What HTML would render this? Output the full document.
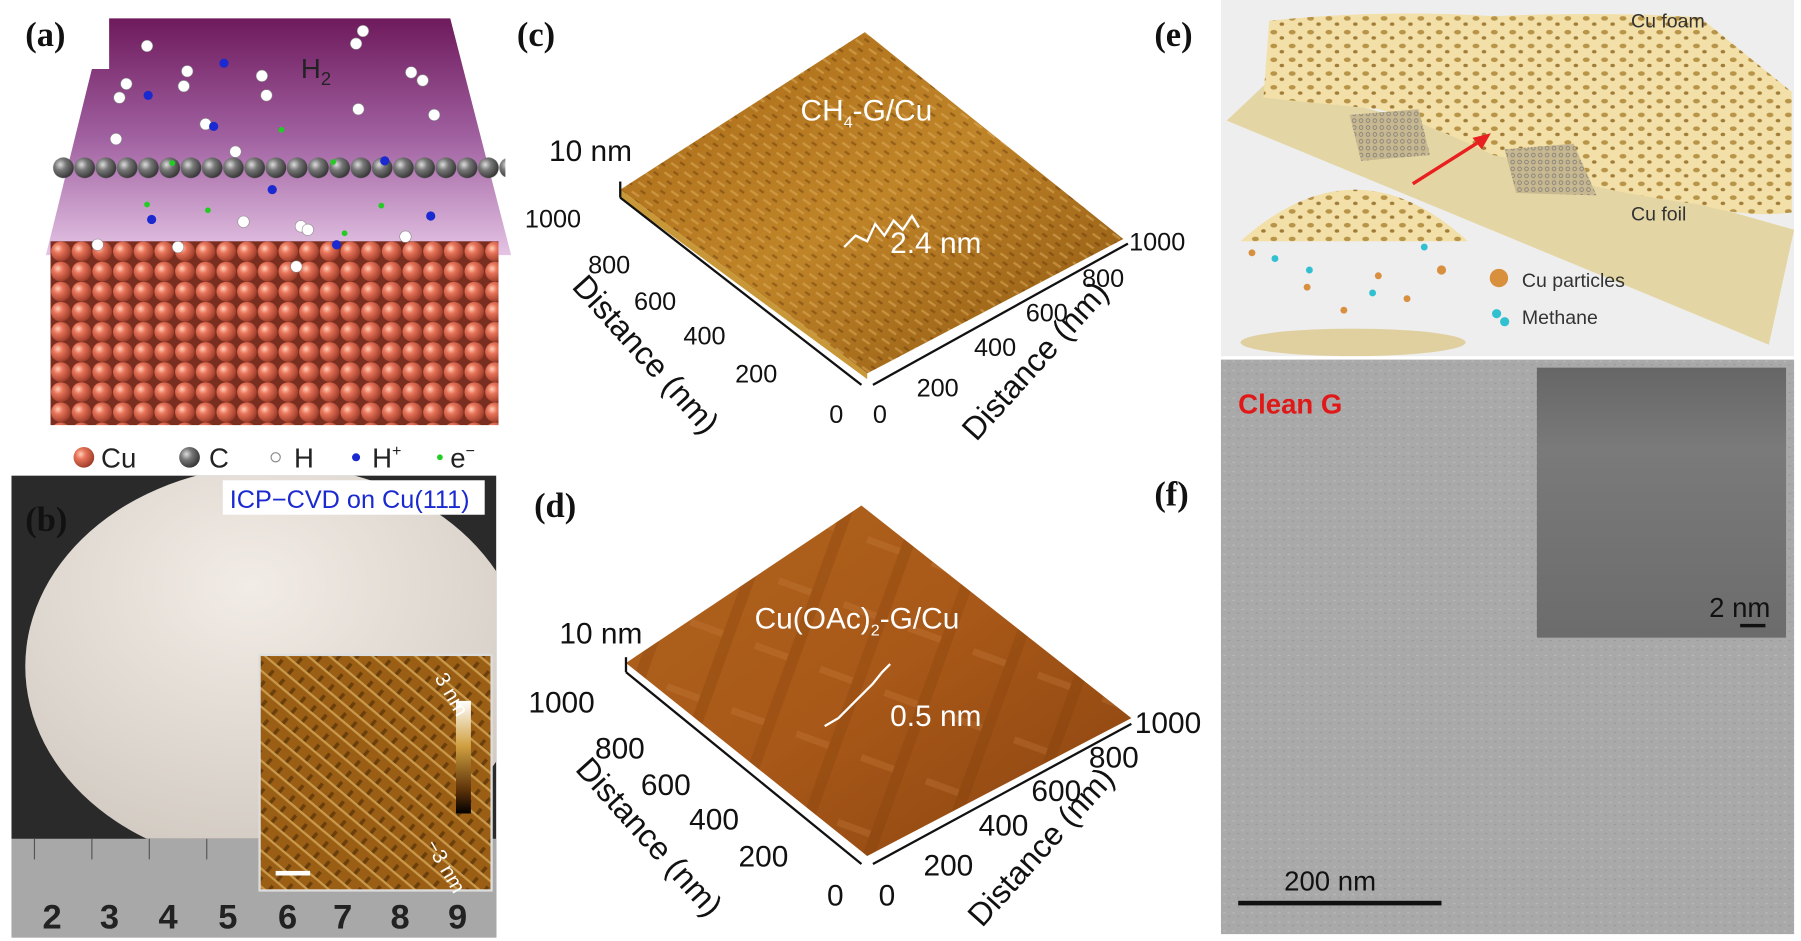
<!DOCTYPE html>
<html><head><meta charset="utf-8"><style>
html,body{margin:0;padding:0;background:#fff;width:1801px;height:941px;overflow:hidden}
svg{display:block}
text{font-family:"Liberation Sans",sans-serif}
.pl{font-family:"Liberation Serif",serif;font-weight:bold;font-size:30px;fill:#111}
.ax{font-size:22px;fill:#111}
</style></head><body>
<svg width="1801" height="941" viewBox="0 0 1568 819" preserveAspectRatio="none">
<defs>
<linearGradient id="purp" x1="0" y1="0" x2="0" y2="1"><stop offset="0" stop-color="#6e1a5c"/><stop offset="0.5" stop-color="#a060a0"/><stop offset="1" stop-color="#e4c4e4"/></linearGradient>
<radialGradient id="cu" cx="0.35" cy="0.35" r="0.7"><stop offset="0" stop-color="#ffd0b8"/><stop offset="0.35" stop-color="#e8745a"/><stop offset="1" stop-color="#9a3a28"/></radialGradient>
<radialGradient id="cg" cx="0.35" cy="0.35" r="0.7"><stop offset="0" stop-color="#ddd"/><stop offset="0.4" stop-color="#777"/><stop offset="1" stop-color="#333"/></radialGradient>
<pattern id="cupat" x="44" y="210" width="18" height="17.5" patternUnits="userSpaceOnUse"><rect width="18" height="17.5" fill="#7a2e20"/><circle cx="9" cy="8.8" r="8.6" fill="url(#cu)"/></pattern>
<pattern id="cpat" x="46" y="136" width="18.5" height="20" patternUnits="userSpaceOnUse"><circle cx="9.2" cy="10" r="9" fill="url(#cg)"/></pattern>
<linearGradient id="afm1" x1="0" y1="0" x2="1" y2="1"><stop offset="0" stop-color="#a86a18"/><stop offset="0.5" stop-color="#c08428"/><stop offset="1" stop-color="#8a5410"/></linearGradient>
<pattern id="afmtex" width="14" height="10" patternUnits="userSpaceOnUse" patternTransform="rotate(35)"><rect width="14" height="10" fill="none"/><rect x="0" y="0" width="8" height="2" fill="#e0b060" opacity="0.5"/><rect x="6" y="5" width="5" height="2" fill="#5a3008" opacity="0.4"/></pattern>
<linearGradient id="afm2" x1="0" y1="0" x2="1" y2="1"><stop offset="0" stop-color="#b0641e"/><stop offset="0.5" stop-color="#a85818"/><stop offset="1" stop-color="#8a4410"/></linearGradient>
<pattern id="afmstr" width="60" height="60" patternUnits="userSpaceOnUse" patternTransform="rotate(20)"><rect x="0" y="0" width="10" height="60" fill="#7a3a08" opacity="0.25"/><rect x="30" y="0" width="60" height="6" fill="#d08848" opacity="0.25"/></pattern>
<radialGradient id="plate" cx="0.45" cy="0.3" r="0.8"><stop offset="0" stop-color="#f2ece6"/><stop offset="1" stop-color="#cdc5bc"/></radialGradient>
<pattern id="afmb" width="12" height="12" patternUnits="userSpaceOnUse" patternTransform="rotate(40)"><rect width="12" height="12" fill="#9a5e14"/><rect width="12" height="2" fill="#e8c070" opacity="0.6"/><rect x="4" y="6" width="3" height="6" fill="#3a2004" opacity="0.5"/></pattern>
<linearGradient id="cbar" x1="0" y1="0" x2="0" y2="1"><stop offset="0" stop-color="#fff"/><stop offset="0.4" stop-color="#d0a040"/><stop offset="0.8" stop-color="#5a3008"/><stop offset="1" stop-color="#000"/></linearGradient>
<pattern id="foam" width="16" height="12" patternUnits="userSpaceOnUse"><rect width="16" height="12" fill="#f3e0a8"/><ellipse cx="5" cy="4" rx="3" ry="2" fill="#b89448"/><ellipse cx="12" cy="9" rx="2" ry="1.5" fill="#a07c38"/></pattern>
<pattern id="hex" width="6" height="6" patternUnits="userSpaceOnUse"><rect width="6" height="6" fill="#c8b890"/><circle cx="3" cy="3" r="1.6" fill="none" stroke="#777" stroke-width="0.6"/></pattern>
<pattern id="noise" width="8" height="8" patternUnits="userSpaceOnUse"><rect width="8" height="8" fill="#a9a9a9"/><rect x="1" y="2" width="2" height="1" fill="#bbb"/><rect x="5" y="5" width="2" height="1" fill="#999"/></pattern>
<linearGradient id="inset" x1="0" y1="0" x2="0" y2="1"><stop offset="0" stop-color="#666"/><stop offset="0.3" stop-color="#7a7a7a"/><stop offset="1" stop-color="#6c6c6c"/></linearGradient>
</defs>

<!-- Panel a -->
<g>
<polygon points="95,16 392,16 445,222 40,222 80,60 95,60" fill="url(#purp)"/>
<rect x="46" y="136" width="394" height="20" fill="url(#cpat)"/>
<rect x="44" y="210" width="390" height="160" fill="url(#cupat)"/>
<g fill="#fff" stroke="#888" stroke-width="0.5">
<circle cx="128" cy="40" r="5"/><circle cx="316" cy="27" r="5"/><circle cx="310" cy="38" r="5"/><circle cx="104" cy="85" r="5"/><circle cx="110" cy="73" r="5"/><circle cx="163" cy="62" r="5"/><circle cx="160" cy="75" r="5"/><circle cx="228" cy="66" r="5"/><circle cx="232" cy="83" r="5"/><circle cx="358" cy="63" r="5"/><circle cx="368" cy="70" r="5"/><circle cx="312" cy="95" r="5"/><circle cx="378" cy="100" r="5"/><circle cx="179" cy="108" r="5"/><circle cx="101" cy="121" r="5"/><circle cx="205" cy="132" r="5"/><circle cx="212" cy="193" r="5"/><circle cx="262" cy="197" r="5"/><circle cx="268" cy="200" r="5"/><circle cx="85" cy="213" r="5"/><circle cx="155" cy="215" r="5"/><circle cx="353" cy="206" r="5"/><circle cx="258" cy="232" r="5"/>
</g>
<g fill="#1a2ad0"><circle cx="129" cy="83" r="4"/><circle cx="195" cy="55" r="4"/><circle cx="186" cy="110" r="4"/><circle cx="335" cy="140" r="4"/><circle cx="237" cy="165" r="4"/><circle cx="132" cy="191" r="4"/><circle cx="375" cy="188" r="4"/><circle cx="293" cy="213" r="4"/></g>
<g fill="#22cc22"><circle cx="245" cy="113" r="2.5"/><circle cx="150" cy="142" r="2.5"/><circle cx="290" cy="141" r="2.5"/><circle cx="128" cy="178" r="2.5"/><circle cx="181" cy="183" r="2.5"/><circle cx="332" cy="179" r="2.5"/><circle cx="300" cy="203" r="2.5"/></g>
<text x="262" y="68" font-size="24" fill="#222">H<tspan font-size="16" dy="6">2</tspan></text>
<text x="22" y="40" class="pl">(a)</text>
<g font-size="24" fill="#222">
<circle cx="73" cy="398" r="9" fill="url(#cu)"/><text x="88" y="407">Cu</text>
<circle cx="165" cy="398" r="9" fill="url(#cg)"/><text x="182" y="407">C</text>
<circle cx="240" cy="398" r="4" fill="#fff" stroke="#888"/><text x="256" y="407">H</text>
<circle cx="310" cy="398" r="3.5" fill="#1a2ad0"/><text x="324" y="407">H<tspan font-size="14" dy="-10">+</tspan></text>
<circle cx="383" cy="398" r="2.5" fill="#22cc22"/><text x="392" y="407">e<tspan font-size="14" dy="-10">−</tspan></text>
</g>
</g>

<!-- Panel b -->
<g>
<rect x="10" y="414" width="422" height="402" fill="#2a2a2a"/>
<clipPath id="cb"><rect x="10" y="414" width="422" height="316"/></clipPath>
<ellipse cx="240" cy="580" rx="218" ry="175" fill="url(#plate)" clip-path="url(#cb)"/>
<rect x="10" y="730" width="422" height="86" fill="#a8a8a8"/>
<g stroke="#555" stroke-width="1"><line x1="30" y1="730" x2="30" y2="748"/><line x1="80" y1="730" x2="80" y2="748"/><line x1="130" y1="730" x2="130" y2="748"/><line x1="180" y1="730" x2="180" y2="748"/><line x1="230" y1="730" x2="230" y2="748"/><line x1="280" y1="730" x2="280" y2="748"/><line x1="330" y1="730" x2="330" y2="748"/><line x1="380" y1="730" x2="380" y2="748"/></g>
<g font-family="Liberation Serif,serif" font-weight="bold" font-size="30" fill="#222">
<text x="37" y="808">2</text><text x="87" y="808">3</text><text x="138" y="808">4</text><text x="190" y="808">5</text><text x="242" y="808">6</text><text x="290" y="808">7</text><text x="340" y="808">8</text><text x="390" y="808">9</text></g>
<rect x="194" y="418" width="228" height="30" fill="#fff"/>
<text x="200" y="442" font-size="22" fill="#1a2ad0">ICP−CVD on Cu(111)</text>
<rect x="226" y="570" width="202" height="205" fill="url(#afmb)" stroke="#ddd" stroke-width="2"/>
<rect x="397" y="610" width="13" height="98" fill="url(#cbar)"/>
<text x="378" y="590" font-size="18" fill="#fff" transform="rotate(60 378 590)">3 nm</text>
<text x="370" y="735" font-size="18" fill="#fff" transform="rotate(60 370 735)">−3 nm</text>
<rect x="240" y="758" width="30" height="4" fill="#fff"/>
<text x="22" y="462" class="pl">(b)</text>
</g>

<!-- Panel c -->
<g>
<polygon points="753,28 978,208 755,325 540,165" fill="url(#afm1)"/>
<polygon points="753,28 978,208 755,325 540,165" fill="url(#afmtex)"/>
<polygon points="540,165 755,325 755,330 540,172" fill="#c89838"/>
<polyline points="735,215 745,205 755,210 762,195 770,205 778,192 786,200 794,188 800,198" fill="none" stroke="#fff" stroke-width="2"/>
<text x="697" y="105" font-size="26" fill="#fff">CH<tspan font-size="14" dy="6">4</tspan><tspan dy="-6">-G/Cu</tspan></text>
<text x="775" y="220" font-size="26" fill="#fff">2.4 nm</text>
<text x="478" y="140" font-size="26" fill="#111">10 nm</text>
<line x1="540" y1="158" x2="540" y2="172" stroke="#111" stroke-width="2"/>
<line x1="540" y1="172" x2="750" y2="335" stroke="#111" stroke-width="2"/>
<line x1="760" y1="335" x2="982" y2="212" stroke="#111" stroke-width="2"/>
<g class="ax" font-size="26" fill="#111">
<text x="457" y="198">1000</text><text x="512" y="238">800</text><text x="552" y="270">600</text><text x="595" y="300">400</text><text x="640" y="333">200</text><text x="722" y="368">0</text>
<text x="760" y="368">0</text><text x="798" y="345">200</text><text x="848" y="310">400</text><text x="893" y="280">600</text><text x="942" y="250">800</text><text x="983" y="218">1000</text></g>
<text x="497" y="250" font-size="28" fill="#111" transform="rotate(48 497 250)">Distance (nm)</text>
<text x="850" y="385" font-size="28" fill="#111" transform="rotate(-48 850 385)">Distance (nm)</text>
<text x="450" y="40" class="pl">(c)</text>
</g>

<!-- Panel d -->
<g>
<polygon points="750,440 985,625 755,745 545,577" fill="url(#afm2)"/>
<polygon points="750,440 985,625 755,745 545,577" fill="url(#afmstr)"/>
<polyline points="718,632 730,625 740,615 750,605 760,595 768,585 775,578" fill="none" stroke="#fff" stroke-width="2"/>
<text x="657" y="547" font-size="26" fill="#fff">Cu(OAc)<tspan font-size="14" dy="6">2</tspan><tspan dy="-6">-G/Cu</tspan></text>
<text x="775" y="632" font-size="26" fill="#fff">0.5 nm</text>
<text x="487" y="560" font-size="26" fill="#111">10 nm</text>
<line x1="545" y1="572" x2="545" y2="585" stroke="#111" stroke-width="2"/>
<line x1="545" y1="585" x2="750" y2="752" stroke="#111" stroke-width="2"/>
<line x1="760" y1="752" x2="985" y2="630" stroke="#111" stroke-width="2"/>
<g font-size="26" fill="#111">
<text x="460" y="620">1000</text><text x="518" y="660">800</text><text x="558" y="692">600</text><text x="600" y="722">400</text><text x="643" y="754">200</text><text x="720" y="788">0</text>
<text x="765" y="788">0</text><text x="804" y="762">200</text><text x="852" y="727">400</text><text x="898" y="697">600</text><text x="948" y="668">800</text><text x="988" y="638">1000</text></g>
<text x="500" y="670" font-size="28" fill="#111" transform="rotate(48 500 670)">Distance (nm)</text>
<text x="855" y="808" font-size="28" fill="#111" transform="rotate(-48 855 808)">Distance (nm)</text>
<text x="465" y="450" class="pl">(d)</text>
</g>

<!-- Panel e -->
<g>
<rect x="1063" y="0" width="499" height="310" fill="#eeeeee"/>
<polygon points="1068,105 1105,70 1562,200 1540,300" fill="#e4d6a4"/>
<path d="M1105,18 Q1200,8 1300,14 Q1400,10 1480,15 L1560,80 L1560,185 Q1520,190 1480,178 Q1420,170 1380,160 Q1330,140 1300,135 Q1250,110 1200,95 Q1150,90 1100,85 Z" fill="url(#foam)"/>
<polygon points="1175,100 1235,95 1245,135 1185,140" fill="url(#hex)"/>
<polygon points="1310,130 1370,125 1390,170 1320,168" fill="url(#hex)"/>
<line x1="1230" y1="160" x2="1290" y2="122" stroke="#e82020" stroke-width="3"/>
<polygon points="1298,116 1282,120 1290,130" fill="#e82020"/>
<path d="M1080,210 Q1180,120 1278,210 Z" fill="url(#foam)"/>
<ellipse cx="1178" cy="298" rx="98" ry="12" fill="#e0d0a0"/>
<g fill="#d89040"><circle cx="1090" cy="220" r="3"/><circle cx="1138" cy="250" r="3"/><circle cx="1170" cy="270" r="3"/><circle cx="1200" cy="240" r="3"/><circle cx="1225" cy="260" r="3"/><circle cx="1255" cy="235" r="4"/></g>
<g fill="#30c0d0"><circle cx="1110" cy="225" r="3"/><circle cx="1140" cy="235" r="3"/><circle cx="1195" cy="255" r="3"/><circle cx="1240" cy="215" r="3"/></g>
<circle cx="1305" cy="242" r="8" fill="#d8903c"/>
<circle cx="1303" cy="273" r="4" fill="#30c0d0"/><circle cx="1310" cy="280" r="4" fill="#30c0d0"/>
<g font-size="17" fill="#333">
<text x="1420" y="24">Cu foam</text>
<text x="1420" y="192">Cu foil</text>
<text x="1325" y="250">Cu particles</text>
<text x="1325" y="282">Methane</text></g>
<text x="1005" y="40" class="pl">(e)</text>
</g>

<!-- Panel f -->
<g>
<rect x="1063" y="313" width="499" height="500" fill="url(#noise)"/>
<rect x="1338" y="320" width="217" height="235" fill="url(#inset)"/>
<text x="1078" y="360" font-size="24" font-weight="bold" fill="#e01818">Clean G</text>
<text x="1488" y="537" font-size="24" fill="#111">2 nm</text>
<rect x="1515" y="543" width="22" height="3" fill="#111"/>
<text x="1118" y="775" font-size="24" fill="#111">200 nm</text>
<rect x="1078" y="784" width="177" height="4" fill="#111"/>
<text x="1005" y="440" class="pl">(f)</text>
</g>
</svg>
</body></html>
